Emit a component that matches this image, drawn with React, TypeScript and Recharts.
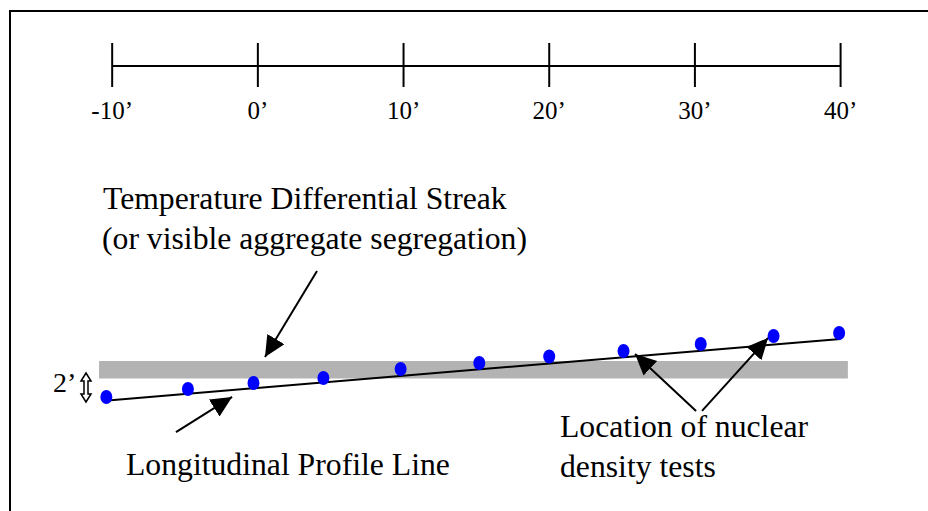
import React from "react";
import {
  ComposedChart,
  XAxis,
  YAxis,
  Scatter,
  ReferenceArea,
  ReferenceLine,
} from "recharts";

// scale bar along the pavement (ft)
const scaleTicks = [-10, 0, 10, 20, 30, 40];
const scaleLabels = ["-10’", "0’", "10’", "20’", "30’", "40’"];

// nuclear density test locations: station (ft) and transverse offset (ft)
const testStations = [-10.4, -4.8, -0.3, 4.5, 9.8, 15.2, 20.0, 25.1, 30.4, 35.4, 39.9];
const testOffsets = [-1.87, -1.32, -0.91, -0.57, 0.05, 0.46, 0.91, 1.28, 1.76, 2.31, 2.52];

// longitudinal profile line, start and end
const profileStations = [-10.7, 40];
const profileOffsets = [-2.15, 2.11];

// temperature differential streak (grey band)
const streakStations = [-10.9, 40.5];
const streakOffsets = [-0.6, 0.6];

const X_DOMAIN: [number, number] = [-17.7, 46];
const Y_DOMAIN: [number, number] = [-9.7, 20.85];

const FONT = "Liberation Serif";

// callout arrows, tail -> tip, in chart units
const arrows = [
  { from: { x: 4.06, y: 6.78 }, to: { x: 0.49, y: 0.87 } },
  { from: { x: -5.62, y: -4.28 }, to: { x: -1.77, y: -1.87 } },
  { from: { x: 30.08, y: -2.83 }, to: { x: 25.89, y: 1.08 } },
  { from: { x: 30.49, y: -2.83 }, to: { x: 35.02, y: 2.18 } },
];

const testData = testStations.map((x, i) => ({ x, y: testOffsets[i] }));
const profileData = profileStations.map((x, i) => ({ x, y: profileOffsets[i] }));

const ScaleTick = (props: any) => {
  const { x, y, payload } = props;
  const label = scaleLabels[scaleTicks.indexOf(payload.value)];
  return (
    <g>
      <line x1={x} x2={x} y1={y - 23} y2={y + 21} stroke="#000" strokeWidth={2} />
      <text
        x={x}
        y={y + 53}
        textAnchor="middle"
        fontSize={25}
        fontFamily={FONT}
        fill="#000"
      >
        {label}
      </text>
    </g>
  );
};

const TestDot = (props: any) => (
  <ellipse cx={props.cx} cy={props.cy} rx={6} ry={7} fill="#0000ff" />
);

const ArrowShape = (props: any) => (
  <line
    x1={props.x1}
    y1={props.y1}
    x2={props.x2}
    y2={props.y2}
    stroke="#000"
    strokeWidth={2}
    markerEnd="url(#arrowHead)"
  />
);

const textStyle = { fontFamily: FONT, fontSize: 31.7, fill: "#000" };

export default function App() {
  return (
    <div style={{ position: "absolute", left: 0, top: 0, background: "#fff" }}>
      <ComposedChart
        width={928}
        height={511}
        margin={{ top: 0, right: 0, bottom: 0, left: 0 }}
      >
        <defs>
          <marker
            id="arrowHead"
            markerUnits="userSpaceOnUse"
            markerWidth={24}
            markerHeight={22}
            refX={21}
            refY={10}
            orient="auto"
          >
            <path d="M0,0 L21,10 L0,20 Z" fill="#000" />
          </marker>
        </defs>
        <rect x={10} y={11} width={1000} height={600} fill="none" stroke="#000" strokeWidth={2} />

        <XAxis
          type="number"
          dataKey="x"
          orientation="top"
          domain={X_DOMAIN}
          ticks={scaleTicks}
          interval={0}
          height={66}
          axisLine={false}
          tickLine={false}
          tickSize={0}
          tickMargin={0}
          tick={<ScaleTick />}
          allowDataOverflow
        />
        <YAxis type="number" dataKey="y" domain={Y_DOMAIN} hide allowDataOverflow />

        <ReferenceLine
          segment={[
            { x: scaleTicks[0], y: Y_DOMAIN[1] },
            { x: scaleTicks[scaleTicks.length - 1], y: Y_DOMAIN[1] },
          ]}
          stroke="#000"
          strokeWidth={2}
          ifOverflow="visible"
        />

        <ReferenceArea
          x1={streakStations[0]}
          x2={streakStations[1]}
          y1={streakOffsets[0]}
          y2={streakOffsets[1]}
          fill="#b3b3b3"
          fillOpacity={1}
          stroke="none"
          ifOverflow="visible"
        />

        <Scatter
          data={profileData}
          line={{ stroke: "#000", strokeWidth: 2 }}
          shape={() => <g />}
          isAnimationActive={false}
        />
        <Scatter data={testData} shape={<TestDot />} isAnimationActive={false} />

        {arrows.map((a, i) => (
          <ReferenceLine
            key={i}
            segment={[a.from, a.to]}
            shape={<ArrowShape />}
            ifOverflow="visible"
          />
        ))}

        <text x={103} y={209} {...textStyle}>Temperature Differential Streak</text>
        <text x={102} y={249} {...textStyle}>(or visible aggregate segregation)</text>
        <text x={126} y={475} {...textStyle}>Longitudinal Profile Line</text>
        <text x={560} y={437} {...textStyle}>Location of nuclear</text>
        <text x={560} y={477} {...textStyle}>density tests</text>

        <text x={53} y={392} fontFamily={FONT} fontSize={28} fill="#000">2’</text>
        <path
          d="M86,373 L91,381 L88,381 L88,394 L91,394 L86,402 L81,394 L84,394 L84,381 L81,381 Z"
          fill="#fff"
          stroke="#000"
          strokeWidth={1.5}
        />
      </ComposedChart>
    </div>
  );
}
